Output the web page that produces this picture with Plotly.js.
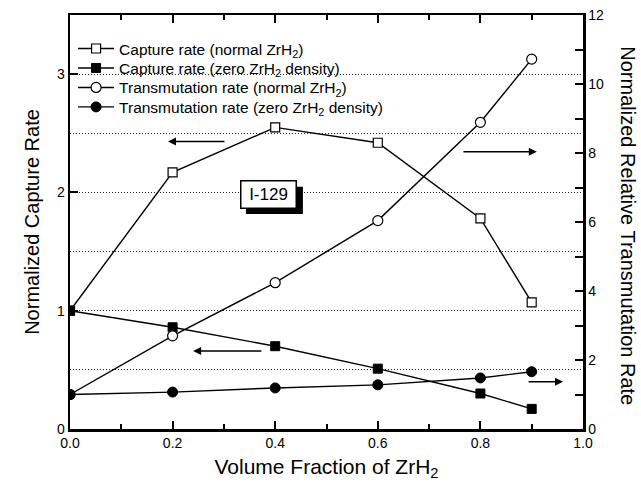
<!DOCTYPE html>
<html>
<head>
<meta charset="utf-8">
<script src="https://cdn.plot.ly/plotly-3.0.1.min.js"></script>
<style>html,body{margin:0;padding:0;background:#fff;} #chart{width:641px;height:490px;}</style>
</head>
<body>
<div id="chart"></div>
<script>
// Data
const volumeFraction = [0.0, 0.2, 0.4, 0.6, 0.8, 0.9];
const captureNormal = [1.0, 2.17, 2.55, 2.42, 1.78, 1.07];
const captureZero = [1.0, 0.86, 0.70, 0.51, 0.30, 0.17];
const transNormal = [1.0, 2.70, 4.24, 6.04, 8.89, 10.72];
const transZero = [1.0, 1.07, 1.19, 1.28, 1.48, 1.66];
const seriesNames = [
  'Capture rate (normal ZrH<sub>2</sub>)',
  'Capture rate (zero ZrH<sub>2</sub> density)',
  'Transmutation rate (normal ZrH<sub>2</sub>)',
  'Transmutation rate (zero ZrH<sub>2</sub> density)'
];
const xTickVals = [0, 0.2, 0.4, 0.6, 0.8, 1.0];
const xTickText = ['0.0', '0.2', '0.4', '0.6', '0.8', '1.0'];

const FONT = 'Liberation Sans, Arial, Helvetica, sans-serif';
const lineStyle = {color: 'black', width: 1.4};

const traces = [
  {x: volumeFraction, y: captureNormal, name: seriesNames[0], yaxis: 'y', mode: 'lines+markers', legend: 'legend',
   line: lineStyle, marker: {symbol: 'square', size: 9, color: 'white', line: {color: 'black', width: 1.2}}},
  {x: volumeFraction, y: captureZero, name: seriesNames[1], yaxis: 'y', mode: 'lines+markers', legend: 'legend2',
   line: lineStyle, marker: {symbol: 'square', size: 9, color: 'black', line: {color: 'black', width: 1}}},
  {x: volumeFraction, y: transNormal, name: seriesNames[2], yaxis: 'y2', mode: 'lines+markers', legend: 'legend3',
   line: lineStyle, marker: {symbol: 'circle', size: 10, color: 'white', line: {color: 'black', width: 1.2}}},
  {x: volumeFraction, y: transZero, name: seriesNames[3], yaxis: 'y2', mode: 'lines+markers', legend: 'legend4',
   line: lineStyle, marker: {symbol: 'circle', size: 10, color: 'black', line: {color: 'black', width: 1}}}
];

function arrow(xHead, xTail, y) {
  return {x: xHead, y: y, ax: xTail, ay: y, xref: 'x', yref: 'y', axref: 'x', ayref: 'y',
    text: '', showarrow: true, arrowhead: 2, arrowsize: 1, arrowwidth: 1.6, arrowcolor: 'black'};
}
function legendAt(y) {
  return {x: 0.006, y: y, xanchor: 'left', yanchor: 'middle', bgcolor: 'rgba(0,0,0,0)',
    font: {family: FONT, size: 15.5, color: 'black'}, itemwidth: 36, borderwidth: 0};
}

const DOT = '1px,2px';

const layout = {
  width: 641, height: 490,
  margin: {l: 70, r: 58, t: 15, b: 61},
  paper_bgcolor: 'white', plot_bgcolor: 'white',
  font: {family: FONT, size: 14, color: 'black'},
  showlegend: true,
  legend: legendAt(0.918),
  legend2: legendAt(0.871),
  legend3: legendAt(0.824),
  legend4: legendAt(0.777),
  xaxis: {range: [0, 1], tickvals: xTickVals, ticktext: xTickText, ticks: 'inside', ticklen: 8, tickwidth: 2,
    tickcolor: 'black', showline: true, linewidth: 2.5, linecolor: 'black', mirror: 'ticks', showgrid: false,
    zeroline: false, tickfont: {size: 14},
    minor: {dtick: 0.1, ticks: 'inside', ticklen: 5, tickwidth: 2, tickcolor: 'black', showgrid: false},
    title: {text: 'Volume Fraction of ZrH<sub>2</sub>', font: {size: 21}, standoff: 9}},
  yaxis: {range: [0, 3.5], dtick: 1, tick0: 0, ticks: 'inside', ticklen: 8, tickwidth: 2, tickcolor: 'black',
    showline: true, linewidth: 2.5, linecolor: 'black', zeroline: false,
    showgrid: true, gridcolor: '#222', gridwidth: 1, griddash: DOT,
    minor: {dtick: 0.5, showgrid: true, gridcolor: '#222', gridwidth: 1, griddash: DOT, ticks: ''},
    tickfont: {size: 14},
    title: {text: 'Normalized Capture Rate', font: {size: 20}, standoff: 12}},
  yaxis2: {range: [0, 12], dtick: 2, tick0: 0, overlaying: 'y', side: 'right', ticks: 'inside', ticklen: 8,
    tickwidth: 2, tickcolor: 'black', showline: true, linewidth: 2.5, linecolor: 'black', zeroline: false,
    showgrid: false, tickfont: {size: 14},
    minor: {dtick: 1, ticks: 'inside', ticklen: 8, tickwidth: 2, tickcolor: 'black', showgrid: false}},
  shapes: [
    {type: 'rect', xref: 'x', yref: 'y', x0: 0.343, x1: 0.454, y0: 1.817, y1: 2.048,
     fillcolor: 'black', line: {width: 0}, layer: 'above'}
  ],
  annotations: [
    {x: 0.387, y: 1.982, xref: 'x', yref: 'y', text: 'I-129', showarrow: false,
     font: {family: FONT, size: 17, color: 'black'}, bgcolor: 'white', bordercolor: 'black',
     borderwidth: 1.5, borderpad: 3, width: 48, height: 20},
    arrow(0.191, 0.304, 2.43),
    arrow(0.910, 0.764, 2.344),
    arrow(0.240, 0.376, 0.659),
    arrow(0.961, 0.891, 0.40),
    {x: 1.0875, y: 0.49, xref: 'paper', yref: 'paper', xanchor: 'center', yanchor: 'middle',
     text: 'Normalized Relative Transmutation Rate',
     textangle: 90, showarrow: false, font: {family: FONT, size: 20, color: 'black'}}
  ]
};

Plotly.newPlot('chart', traces, layout, {displayModeBar: false, staticPlot: true});
</script>
</body>
</html>
